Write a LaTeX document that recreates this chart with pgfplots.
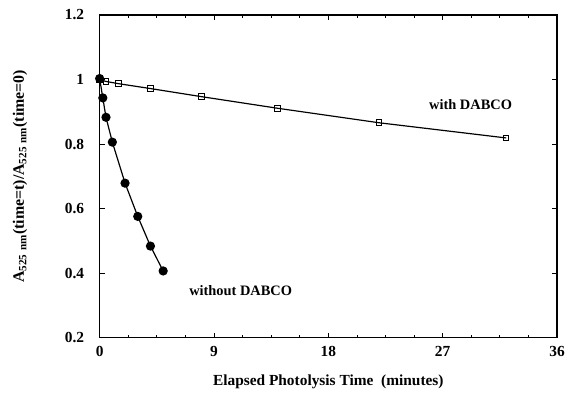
\documentclass[border=0pt]{standalone}
\usepackage{pgfplots}
\pgfplotsset{compat=1.18}
\usepackage{fontspec}
\setmainfont{Liberation Serif}
\begin{document}
\begin{tikzpicture}[x=1bp,y=1bp]
\begin{axis}[
  scale only axis,
  width=459bp, height=324bp,
  xmin=0, xmax=36, ymin=0.2, ymax=1.2,
  xtick={0,9,18,27,36}, minor x tick num=3,
  ytick={0.2,0.4,0.6,0.8,1,1.2},
  tick pos=both, tick align=inside,
  major tick length=5bp, minor tick length=3bp,
  axis line style={line width=1.2pt},
  every tick/.style={line width=0.8pt, black},
  ticklabel style={font=\fontsize{15.5}{17}\selectfont\bfseries},
  xticklabel style={yshift=-5bp},
  yticklabel style={/pgf/number format/fixed, xshift=-12bp},
  /pgf/number format/assume math mode=true,
  xlabel={\fontsize{15.5}{17}\selectfont\bfseries Elapsed Photolysis Time\ \ (minutes)},
  ylabel={\fontsize{16}{18}\selectfont\bfseries A$_{\mathbf{525\ nm}}$(time=t)/A$_{\mathbf{525\ nm}}$(time=0)},
  xlabel style={at={(axis description cs:0.5,-0.136)}, anchor=center},
  ylabel style={at={(axis description cs:-0.174,0.5)}, anchor=center},
  clip=false,
]
\addplot[black, line width=1.2pt, mark=*, mark size=4bp, mark options={fill=black}]
coordinates {(0,1.003) (0.25,0.943) (0.5,0.883) (1,0.806) (2,0.679) (3,0.576) (4,0.484) (5,0.407)};
\addplot[black, line width=1.2pt, mark=square, mark size=2.8bp, mark options={line width=1pt, fill=white}]
coordinates {(0,1.0) (0.5,0.994) (1.5,0.987) (4,0.972) (8,0.947) (14,0.911) (22,0.866) (32,0.819)};
\node[font=\fontsize{14.5}{16}\selectfont\bfseries] at (axis cs:29.2,0.922) {with DABCO};
\node[font=\fontsize{14.5}{16}\selectfont\bfseries] at (axis cs:11.1,0.345) {without DABCO};
\end{axis}
\useasboundingbox (current axis.south west) ++(-100bp,-57bp) rectangle ([xshift=9bp,yshift=15bp]current axis.north east);
\end{tikzpicture}
\end{document}
